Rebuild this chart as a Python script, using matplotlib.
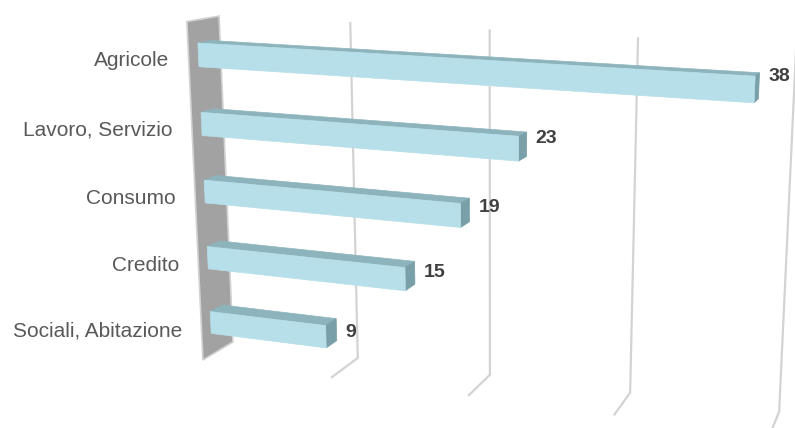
import numpy as np
from matplotlib import pyplot as plt
from matplotlib.patches import Polygon

categories = ["Agricole", "Lavoro, Servizio", "Consumo", "Credito", "Sociali, Abitazione"]
values = [38, 23, 19, 15, 9]
gridValues = [10, 20, 30, 40]

# Camera for the fake 3D view (angles in degrees, focal and centre in pixels)
yaw = np.radians(15.6)
pitch = np.radians(11.55)
roll = np.radians(1.12)
focal = 1300.0
centerX, centerY = 619.0, 144.0

# Scene box in value units, origin = front bottom corner of the side wall
origin = np.array([-29.15, 15.13, 91.08])
depth = 3.80
height = 23.75


def rotate(vec):
    # roll around the view axis
    x, y, z = vec
    return np.array([x * np.cos(roll) - y * np.sin(roll), x * np.sin(roll) + y * np.cos(roll), z])


axisValue = rotate([np.cos(yaw), np.sin(yaw) * np.sin(pitch), -np.sin(yaw) * np.cos(pitch)])
axisDepth = rotate([np.sin(yaw), -np.cos(yaw) * np.sin(pitch), np.cos(yaw) * np.cos(pitch)])
axisUp = rotate([0.0, -np.cos(pitch), -np.sin(pitch)])


def project(v, d, z):
    cam = origin + v * axisValue + d * axisDepth + z * axisUp
    return centerX + focal * cam[0] / cam[2], centerY + focal * cam[1] / cam[2]


def face(ax, corners, color, zorder):
    pts = [project(*c) for c in corners]
    ax.add_patch(Polygon(pts, closed=True, facecolor=color, edgecolor=color,
                         linewidth=0.5, zorder=zorder))


fig = plt.figure(figsize=(7.95, 4.28), dpi=100)
ax = fig.add_axes([0, 0, 1, 1])
ax.set_xlim(0, 795)
ax.set_ylim(428, 0)
ax.axis("off")

# side wall
wall = [project(0, 0, 0), project(0, depth, 0), project(0, depth, height), project(0, 0, height)]
ax.add_patch(Polygon(wall, closed=True, facecolor="#a2a2a2", edgecolor="#d2d2d2",
                     linewidth=1.2, zorder=1))

# gridlines: up the back wall, then forward along the floor
for g in gridValues:
    pts = [project(g, depth, height), project(g, depth, 0), project(g, 0, 0)]
    xs, ys = zip(*pts)
    ax.plot(xs, ys, color="#d3d3d3", linewidth=1.6, zorder=0.5, solid_joinstyle="miter")

nCat = len(categories)
slot = height / nCat
barWidth = slot * 0.34
dFront = depth * 0.3
dBack = depth * 0.7

for i, (name, val) in enumerate(zip(categories, values)):
    zc = (nCat - 1 - i + 0.5) * slot
    z0 = zc - barWidth / 2
    z1 = zc + barWidth / 2

    face(ax, [(0, dFront, z1), (val, dFront, z1), (val, dBack, z1), (0, dBack, z1)], "#8db4bd", 2)
    face(ax, [(val, dFront, z0), (val, dBack, z0), (val, dBack, z1), (val, dFront, z1)], "#79a0a9", 2)
    face(ax, [(0, dFront, z0), (val, dFront, z0), (val, dFront, z1), (0, dFront, z1)], "#b7dfe9", 3)

    lx, ly = project(0, 0, zc)
    ax.text(lx - 19, ly + 3, name, ha="right", va="center", fontsize=15,
            color="#595959", family="Liberation Sans")

    # value label: right of the bar end, height taken slightly in front of the plot
    vx = project(val, dBack, z1)[0]
    vy = project(val, -0.25 * depth, z1 + 0.32)[1]
    ax.text(vx + 9, vy + 1, str(val), ha="left", va="center", fontsize=14,
            fontweight="bold", color="#404040", family="Liberation Sans")

plt.savefig("out.png", dpi=100)
